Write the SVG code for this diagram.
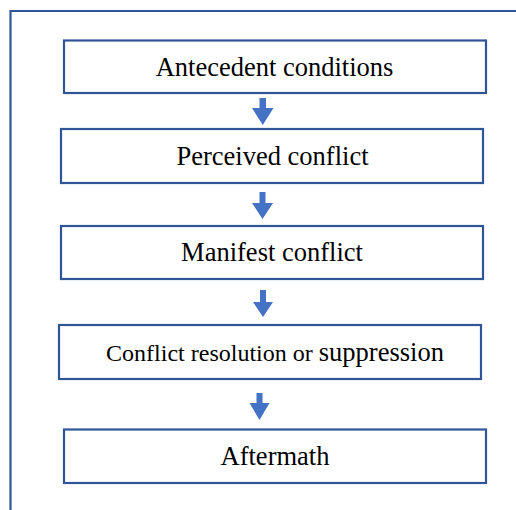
<svg xmlns="http://www.w3.org/2000/svg" width="516" height="510" viewBox="0 0 516 510">
<style>
.box{fill:#fff;stroke:#2F5597;stroke-width:2.2}
.frame{fill:none;stroke:#2F5597;stroke-width:2.2}
.arr{fill:#4472C4}
text{font-family:'Liberation Serif','Times New Roman',serif;font-size:26.5px;fill:#000;text-anchor:middle}
</style>
<rect width="516" height="510" fill="#fff"/>
<path class="frame" d="M10.5,510 V11 H516"/>
<g id="n1"><rect class="box" x="64" y="40.5" width="422" height="52.5"/><text x="274.5" y="76">Antecedent conditions</text></g>
<g id="n2"><rect class="box" x="61" y="129" width="422" height="54"/><text x="272.5" y="165">Perceived conflict</text></g>
<g id="n3"><rect class="box" x="61" y="226" width="422" height="53"/><text x="272" y="261">Manifest conflict</text></g>
<g id="n4"><rect class="box" x="59" y="325" width="422" height="54"/><text x="275" y="361"><tspan font-size="24px">Conflict resolution or </tspan>suppression</text></g>
<g id="n5"><rect class="box" x="64" y="429.5" width="422" height="53.5"/><text x="275" y="465">Aftermath</text></g>
<g id="connectors">
<path class="arr" d="M259.5,98 h6.5 v10 h7.5 l-10.75,17 l-10.75,-17 h7.5 z"/>
<path class="arr" d="M259.5,192 h6 v11 h7.5 l-10.5,16 l-10.5,-16 h7.5 z"/>
<path class="arr" d="M260,290 h6 v12 h7 l-10,15 l-10,-15 h7 z"/>
<path class="arr" d="M256.5,393 h6 v10 h7 l-10,17 l-10,-17 h7 z"/>
</g>
</svg>
